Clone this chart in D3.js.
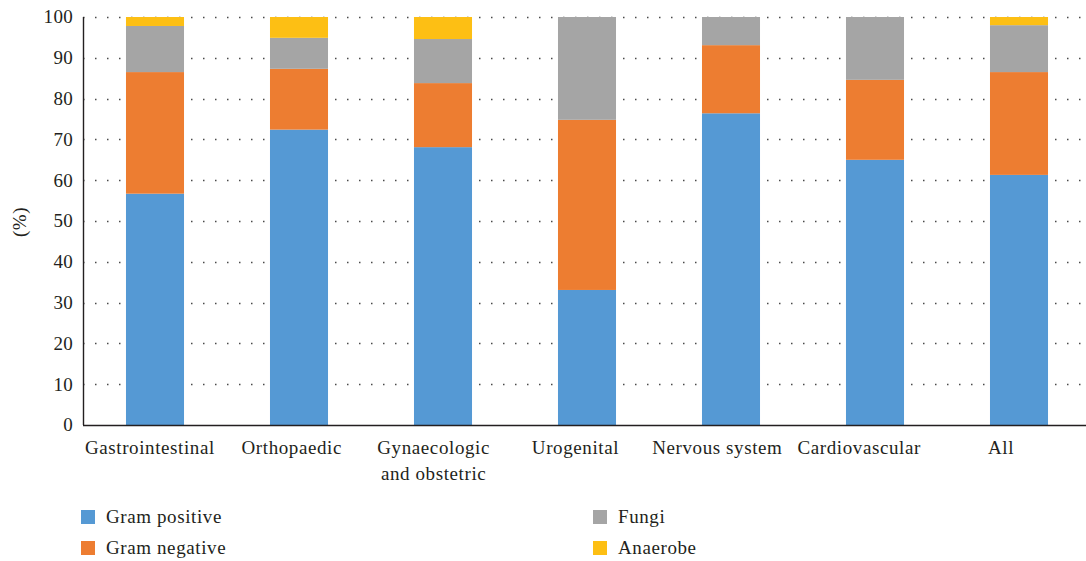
<!DOCTYPE html>
<html>
<head>
<meta charset="utf-8">
<script src="https://cdn.jsdelivr.net/npm/d3@7"></script>
<style>
  html, body { margin: 0; padding: 0; background: #fff; }
  svg { display: block; }
  text { font-family: "Liberation Serif", "Times New Roman", serif; fill: #231f20; }
</style>
</head>
<body>
<svg id="chart" width="1086" height="561"></svg>
<script>
// Share of isolated pathogens by infection site (%)
const categories = ["Gastrointestinal", "Orthopaedic", "Gynaecologic\nand obstetric", "Urogenital", "Nervous system", "Cardiovascular", "All"];
const gramPositive = [56.7, 72.4, 68.1, 33.1, 76.4, 65.0, 61.3];
const gramNegative = [29.8, 14.9, 15.7, 41.7, 16.7, 19.6, 25.2];
const fungi        = [11.3, 7.6, 10.8, 25.2, 6.9, 15.4, 11.5];
const anaerobe     = [2.2, 5.1, 5.4, 0, 0, 0, 2.0];
const seriesNames  = ["Gram positive", "Gram negative", "Fungi", "Anaerobe"];
const seriesColors = ["#5599d4", "#ed7d31", "#a5a5a5", "#fdbf14"];
const yTicks = [0, 10, 20, 30, 40, 50, 60, 70, 80, 90, 100];

const rows = categories.map((c, i) => ({
  category: c,
  "Gram positive": gramPositive[i],
  "Gram negative": gramNegative[i],
  "Fungi": fungi[i],
  "Anaerobe": anaerobe[i]
}));

const svg = d3.select("#chart");
const plotLeft = 83, plotRight = 1091, plotTop = 17, plotBottom = 425;

const x = d3.scaleBand().domain(categories).range([plotLeft, plotRight]).paddingInner(0.597).paddingOuter(0.2985);
const xLabel = d3.scaleBand().domain(categories).range([79, 1072]);
const y = d3.scaleLinear().domain([0, 100]).range([plotBottom, plotTop]);
const color = d3.scaleOrdinal().domain(seriesNames).range(seriesColors);

// dotted horizontal gridlines
svg.append("g").selectAll("line").data(yTicks.filter(t => t > 0)).join("line")
  .attr("x1", plotLeft).attr("x2", 1086)
  .attr("y1", d => Math.round(y(d)) + 0.5).attr("y2", d => Math.round(y(d)) + 0.5)
  .attr("stroke", "#4a4a4a").attr("stroke-width", 1.5)
  .attr("stroke-dasharray", "1.5 10.5");

// stacked bars
const stacked = d3.stack().keys(seriesNames)(rows);
svg.append("g").selectAll("g").data(stacked).join("g")
  .attr("fill", d => color(d.key))
  .selectAll("rect").data(d => d).join("rect")
  .attr("x", d => x(d.data.category))
  .attr("width", x.bandwidth())
  .attr("y", d => y(d[1]))
  .attr("height", d => y(d[0]) - y(d[1]));

// axis lines
svg.append("line").attr("x1", plotLeft + 0.5).attr("x2", plotLeft + 0.5).attr("y1", plotTop).attr("y2", plotBottom)
  .attr("stroke", "#231f20").attr("stroke-width", 1.4);
svg.append("line").attr("x1", plotLeft).attr("x2", 1086).attr("y1", plotBottom + 0.5).attr("y2", plotBottom + 0.5)
  .attr("stroke", "#231f20").attr("stroke-width", 1.6);

// y tick labels
svg.append("g").selectAll("text").data(yTicks).join("text")
  .attr("x", 73).attr("y", d => y(d)).attr("dy", "0.34em")
  .attr("text-anchor", "end")
  .style("font-size", "19px").style("letter-spacing", "0.3px")
  .text(d => d);

// y axis title
svg.append("text")
  .attr("transform", "translate(26,222) rotate(-90)")
  .attr("text-anchor", "middle")
  .style("font-size", "19px").style("letter-spacing", "0.5px")
  .text("(%)");

// category labels
const catText = svg.append("g").selectAll("text").data(categories).join("text")
  .attr("text-anchor", "middle")
  .attr("x", d => xLabel(d) + xLabel.bandwidth() / 2)
  .attr("y", 454)
  .style("font-size", "19px").style("letter-spacing", "0.6px");
catText.each(function(d) {
  const t = d3.select(this);
  d.split("\n").forEach((ln, i) => {
    t.append("tspan")
      .attr("x", xLabel(d) + xLabel.bandwidth() / 2)
      .attr("dy", i === 0 ? 0 : 26)
      .text(ln);
  });
});

// legend
const legendPos = [[81, 510], [81, 541], [593, 510], [593, 541]];
const legend = svg.append("g").selectAll("g").data(seriesNames).join("g")
  .attr("transform", (d, i) => `translate(${legendPos[i][0]},${legendPos[i][1]})`);
legend.append("rect").attr("width", 14).attr("height", 14).attr("fill", d => color(d));
legend.append("text").attr("x", 25).attr("y", 12.5)
  .style("font-size", "19px").style("letter-spacing", "0.6px")
  .text(d => d);
</script>
</body>
</html>
